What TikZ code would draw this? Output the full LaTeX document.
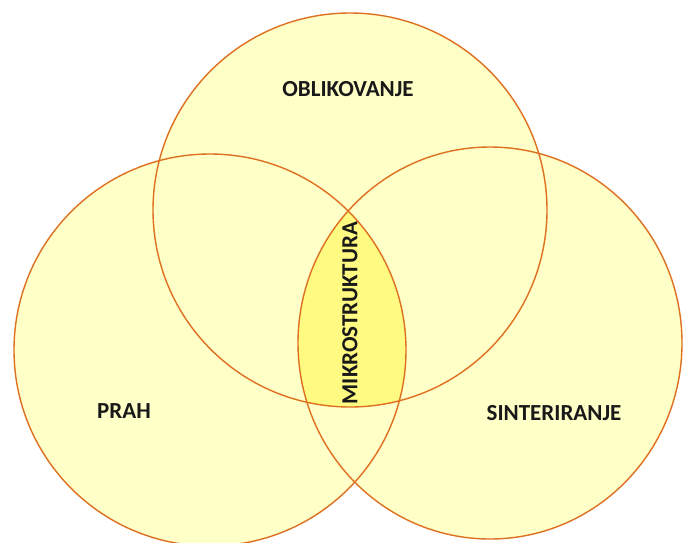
\documentclass[tikz,border=0pt]{standalone}
\usepackage{fontspec}
\setmainfont{Carlito}
\definecolor{venfill}{RGB}{255,255,200}
\definecolor{lensfill}{RGB}{255,250,130}
\definecolor{venline}{RGB}{222,112,32}
\begin{document}
\begin{tikzpicture}[x=1pt,y=-1pt,
  ring/.style={draw=venline,line width=1.4pt},
  lbl/.style={font=\fontsize{23}{26}\selectfont\bfseries,text=black!90,inner sep=0pt}]
\useasboundingbox[fill=white] (0,0) rectangle (683,542);
\coordinate (cT) at (350,210);
\coordinate (cL) at (210,350);
\coordinate (cR) at (490,343);
% fills
\fill[venfill] (cT) circle [x radius=197,y radius=-197];
\fill[venfill] (cL) circle [x radius=196,y radius=-196];
\fill[venfill] (cR) circle [x radius=192,y radius=-196];
\begin{scope}
  \clip (cL) circle [x radius=196,y radius=-196];
  \clip (cR) circle [x radius=192,y radius=-196];
  \fill[lensfill] (cT) circle [x radius=197,y radius=-197];
\end{scope}
% outlines
\draw[ring] (cT) circle [x radius=197,y radius=-197];
\draw[ring] (cL) circle [x radius=196,y radius=-196];
\draw[ring] (cR) circle [x radius=192,y radius=-196];
% labels
\node[lbl] (obl) at (348,89) {OBLIKOVANJE};
\node[lbl] (prah) at (124,411) {PRAH};
\node[lbl] (sint) at (554,413) {SINTERIRANJE};
\node[lbl,rotate=90] (mikro) at (350,313) {MIKROSTRUKTURA};
\end{tikzpicture}
\end{document}
